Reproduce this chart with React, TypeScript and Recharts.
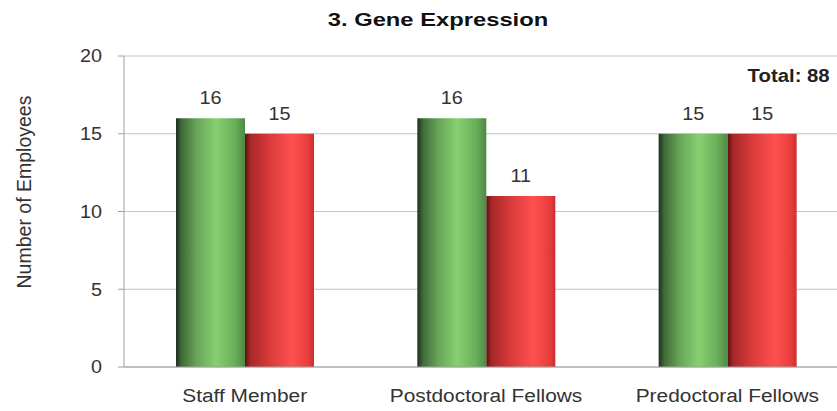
import React from 'react';
import { BarChart, Bar, XAxis, YAxis, CartesianGrid, LabelList } from 'recharts';

const categories = ['Staff Member', 'Postdoctoral Fellows', 'Predoctoral Fellows'];
const greenValues = [16, 16, 15];
const redValues = [15, 11, 15];
const yTicks = [0, 5, 10, 15, 20];
const boundaryTicks = [0, 1, 2, 3];
const title = '3. Gene Expression';
const totalText = 'Total: 88';
const yLabel = 'Number of Employees';

const data = categories.map((c, i) => ({ name: c, green: greenValues[i], red: redValues[i] }));

const FONT = '"Liberation Sans", Arial, sans-serif';
const TXT = '#333';

const XTick = (props: any) => {
  const { x, y, payload } = props;
  return (
    <g transform={`translate(${x},${y})`}>
      <text transform="scale(1.16,1)" textAnchor="middle" dy={27} fill={TXT} fontSize={18} fontFamily={FONT}>
        {payload.value}
      </text>
    </g>
  );
};

const EmptyTick = () => <g />;

const YTick = (props: any) => {
  const { x, y, payload } = props;
  return (
    <g transform={`translate(${x},${y})`}>
      <text transform="scale(1.1,1)" textAnchor="end" dy="0.355em" fill={TXT} fontSize={18} fontFamily={FONT}>
        {payload.value}
      </text>
    </g>
  );
};

const ValueLabel = (props: any) => {
  const { x, y, width, value } = props;
  return (
    <g transform={`translate(${x + width / 2},${y - 14})`}>
      <text transform="scale(1.1,1)" textAnchor="middle" fill={TXT} fontSize={18} fontFamily={FONT}>
        {value}
      </text>
    </g>
  );
};

export default function App() {
  return (
    <div style={{ position: 'absolute', left: 0, top: 0, width: 837, height: 411, overflow: 'hidden', background: '#fff', fontFamily: FONT }}>
      <div style={{ position: 'absolute', left: 438, top: 9, transform: 'translateX(-50%) scaleX(1.25)', whiteSpace: 'nowrap', fontSize: 19, fontWeight: 'bold', color: '#111', lineHeight: '22px' }}>{title}</div>
      <div style={{ position: 'absolute', right: 7, top: 65, transformOrigin: 'right center', transform: 'scaleX(1.13)', whiteSpace: 'nowrap', fontSize: 18, fontWeight: 'bold', color: '#222', lineHeight: '22px' }}>{totalText}</div>
      <div style={{ position: 'absolute', left: 24, top: 192, transform: 'translate(-50%,-50%) rotate(-90deg)', whiteSpace: 'nowrap', fontSize: 19.5, color: TXT, lineHeight: '22px' }}>{yLabel}</div>
      <BarChart width={850} height={411} data={data} margin={{ top: 56, right: 2, left: 0, bottom: 0 }} barGap={0} barSize={69}>
        <defs>
          <linearGradient id="gGreen" x1="0" y1="0" x2="1" y2="0">
            <stop offset="0%" stopColor="#1f2e1f" />
            <stop offset="8%" stopColor="#3f6a38" />
            <stop offset="30%" stopColor="#68a458" />
            <stop offset="58%" stopColor="#86d070" />
            <stop offset="85%" stopColor="#6aae5a" />
            <stop offset="100%" stopColor="#4e8a44" />
          </linearGradient>
          <linearGradient id="gRed" x1="0" y1="0" x2="1" y2="0">
            <stop offset="0%" stopColor="#5a1212" />
            <stop offset="8%" stopColor="#a82828" />
            <stop offset="35%" stopColor="#d83a3a" />
            <stop offset="68%" stopColor="#ff5050" />
            <stop offset="92%" stopColor="#e83c3c" />
            <stop offset="100%" stopColor="#c83030" />
          </linearGradient>
        </defs>
        <CartesianGrid vertical={false} stroke="#c4c4c4" />
        <XAxis xAxisId="bounds" type="number" domain={[0, 3]} ticks={boundaryTicks} height={0} tick={<EmptyTick />} tickSize={5} tickLine={{ stroke: '#a0a0a0' }} axisLine={false} />
        <XAxis dataKey="name" height={44} tickLine={false} axisLine={{ stroke: '#a0a0a0' }} tick={<XTick />} />
        <YAxis
          width={124}
          domain={[0, 20]}
          ticks={yTicks}
          tickSize={6}
          tickLine={{ stroke: '#a0a0a0' }}
          axisLine={{ stroke: '#a0a0a0' }}
          tick={<YTick />}
          tickMargin={16}
        />
        <Bar dataKey="green" fill="url(#gGreen)" isAnimationActive={false}>
          <LabelList dataKey="green" content={<ValueLabel />} />
        </Bar>
        <Bar dataKey="red" fill="url(#gRed)" isAnimationActive={false}>
          <LabelList dataKey="red" content={<ValueLabel />} />
        </Bar>
      </BarChart>
    </div>
  );
}
